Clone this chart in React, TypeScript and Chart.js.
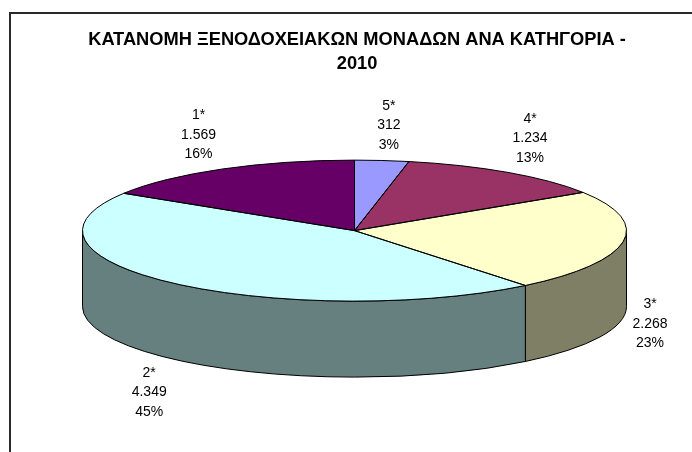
import React, { useEffect, useRef } from "react";
import { Chart, registerables } from "chart.js";

Chart.register(...registerables);

const titleLines = [" ΚΑΤΑΝΟΜΗ ΞΕΝΟΔΟΧΕΙΑΚΩΝ ΜΟΝΑΔΩΝ ΑΝΑ ΚΑΤΗΓΟΡΙΑ -", " 2010"];
const categories = ["5*", "4*", "3*", "2*", "1*"];
const values = [312, 1234, 2268, 4349, 1569];
const valueLabels = ["312", "1.234", "2.268", "4.349", "1.569"];
const percentLabels = ["3%", "13%", "23%", "45%", "16%"];
const topColors = ["#9999FF", "#993366", "#FFFFCC", "#CCFFFF", "#660066"];
const sideColors = ["#4C4C80", "#4C1933", "#7F7F66", "#667F7F", "#330033"];
const labelOffsetX = [7, 22, 27, -25, -24];
const labelOffsetY = [-35, -34, 6, 33, -34];

const RX = 272;
const RY = 70.5;
const DEPTH = 76;
const FONT = '"Liberation Sans", Arial, sans-serif';

const pie3d = {
  id: "pie3d",
  beforeDatasetsDraw(chart: any) {
    const { ctx } = chart;
    const arcs = chart.getDatasetMeta(0).data;
    const cx = arcs[0].x;
    const cy = arcs[0].y;
    // extruded wall, visible where the rim faces the viewer
    ctx.save();
    ctx.lineWidth = 1;
    ctx.strokeStyle = "#000";
    arcs.forEach((arc: any, i: number) => {
      const a = Math.max(arc.startAngle, 0);
      const b = Math.min(arc.endAngle, Math.PI);
      if (b <= a) return;
      ctx.beginPath();
      ctx.ellipse(cx, cy, RX, RY, 0, a, b);
      ctx.ellipse(cx, cy + DEPTH, RX, RY, 0, b, a, true);
      ctx.closePath();
      ctx.fillStyle = sideColors[i];
      ctx.fill();
      ctx.stroke();
    });
    ctx.restore();
    // squash the library's round pie into the tilted top face
    ctx.save();
    ctx.translate(cx, cy);
    ctx.scale(1, RY / RX);
    ctx.translate(-cx, -cy);
  },
  afterDatasetsDraw(chart: any) {
    const { ctx } = chart;
    ctx.restore();
    const arcs = chart.getDatasetMeta(0).data;
    const cx = arcs[0].x;
    const cy = arcs[0].y;
    ctx.save();
    ctx.lineWidth = 1;
    ctx.strokeStyle = "#000";
    arcs.forEach((arc: any) => {
      ctx.beginPath();
      ctx.moveTo(cx, cy);
      ctx.ellipse(cx, cy, RX, RY, 0, arc.startAngle, arc.endAngle);
      ctx.closePath();
      ctx.stroke();
    });
    // chart frame, open to the right and the bottom
    ctx.lineWidth = 2;
    ctx.strokeStyle = "#2a2a2a";
    ctx.beginPath();
    ctx.moveTo(10, chart.height);
    ctx.lineTo(10, 13);
    ctx.lineTo(chart.width, 13);
    ctx.stroke();
    // data labels
    ctx.fillStyle = "#000";
    ctx.font = `14px ${FONT}`;
    ctx.textAlign = "center";
    ctx.textBaseline = "middle";
    arcs.forEach((arc: any, i: number) => {
      const mid = (arc.startAngle + arc.endAngle) / 2;
      const px = cx + RX * Math.cos(mid) + labelOffsetX[i];
      const py = cy + RY * Math.sin(mid) + (Math.sin(mid) > 0 ? DEPTH : 0) + labelOffsetY[i];
      [categories[i], valueLabels[i], percentLabels[i]].forEach((t, k) => {
        ctx.fillText(t, px, py + (k - 1) * 19.5);
      });
    });
    ctx.restore();
  },
};

export default function App() {
  const ref = useRef<HTMLCanvasElement>(null);
  useEffect(() => {
    const chart = new Chart(ref.current!, {
      type: "pie",
      data: {
        labels: categories,
        datasets: [
          {
            data: values,
            backgroundColor: topColors,
            borderWidth: 0,
            radius: RX,
            clip: false,
          } as any,
        ],
      },
      options: {
        responsive: false,
        animation: false,
        layout: { padding: { left: 17, bottom: 67 } },
        plugins: {
          legend: { display: false },
          tooltip: { enabled: false },
          title: {
            display: true,
            text: titleLines,
            color: "#000",
            font: { family: FONT, size: 18.27, weight: "bold", lineHeight: 1.32 },
            padding: { top: 28, bottom: 0 },
          },
        },
      },
      plugins: [pie3d],
    });
    return () => chart.destroy();
  }, []);
  return (
    <canvas
      ref={ref}
      width={692}
      height={452}
      style={{ position: "fixed", left: 0, top: 0, display: "block", background: "#fff" }}
    />
  );
}
